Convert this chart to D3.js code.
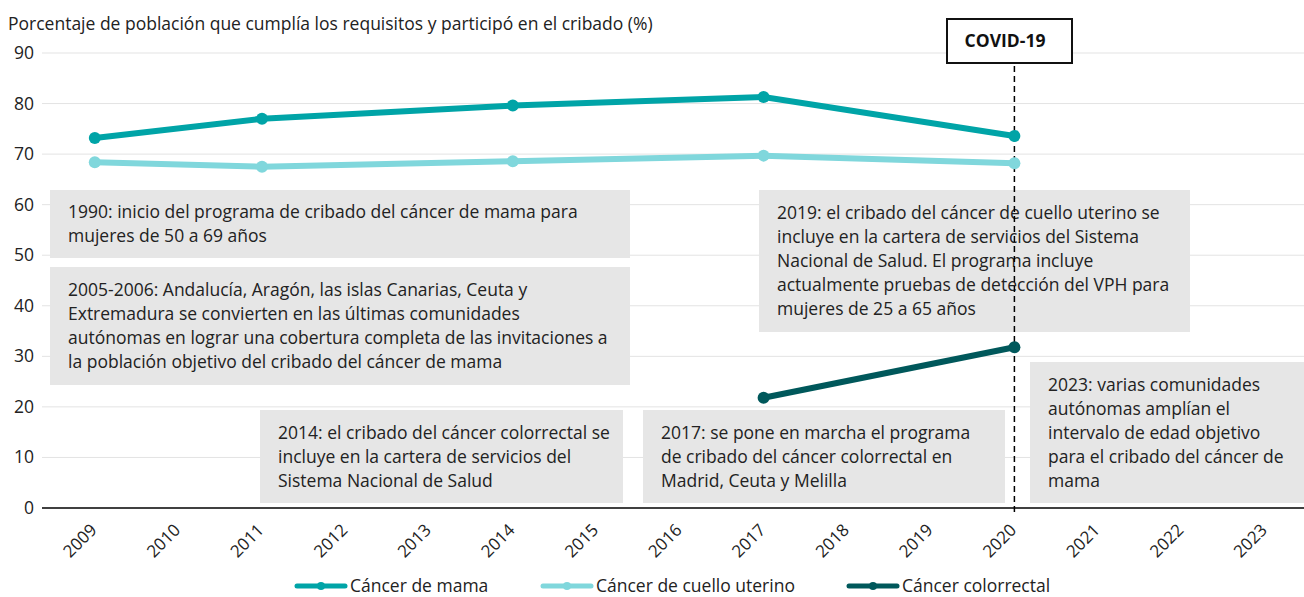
<!DOCTYPE html>
<html>
<head>
<meta charset="utf-8">
<script src="https://cdn.jsdelivr.net/npm/d3@7"></script>
<style>
  body { margin: 0; background: #fff; }
  svg { font-family: "Open Sans", "Noto Sans", sans-serif; }
</style>
</head>
<body>
<div id="chart"></div>
<script>
// Years on the x axis
const years = ["2009","2010","2011","2012","2013","2014","2015","2016","2017","2018","2019","2020","2021","2022","2023"];
const yTicks = [0, 10, 20, 30, 40, 50, 60, 70, 80, 90];

// Series values
const mamaYears = ["2009", "2011", "2014", "2017", "2020"];
const mamaValues = [73.2, 77.0, 79.6, 81.3, 73.6];
const cuelloYears = ["2009", "2011", "2014", "2017", "2020"];
const cuelloValues = [68.4, 67.5, 68.6, 69.7, 68.2];
const colorYears = ["2017", "2020"];
const colorValues = [21.8, 31.8];

const seriesNames = ["Cáncer de mama", "Cáncer de cuello uterino", "Cáncer colorrectal"];
const seriesColors = ["#00a4a7", "#80d7dc", "#00585b"];

// Annotation texts
const noteLines = [
  ["1990: inicio del programa de cribado del cáncer de mama para", "mujeres de 50 a 69 años"],
  ["2005-2006: Andalucía, Aragón, las islas Canarias, Ceuta y", "Extremadura se convierten en las últimas comunidades", "autónomas en lograr una cobertura completa de las invitaciones a", "la población objetivo del cribado del cáncer de mama"],
  ["2014: el cribado del cáncer colorrectal se", "incluye en la cartera de servicios del", "Sistema Nacional de Salud"],
  ["2017: se pone en marcha el programa", "de cribado del cáncer colorrectal en", "Madrid, Ceuta y Melilla"],
  ["2019: el cribado del cáncer de cuello uterino se", "incluye en la cartera de servicios del Sistema", "Nacional de Salud. El programa incluye", "actualmente pruebas de detección del VPH para", "mujeres de 25 a 65 años"],
  ["2023: varias comunidades", "autónomas amplían el", "intervalo de edad objetivo", "para el cribado del cáncer de", "mama"]
];
// pixel placement of boxes (left, right, top, bottom)
const noteBoxes = [
  [50, 630, 190, 258],
  [50, 630, 267, 385],
  [260, 623, 410, 503],
  [643, 1005, 410, 503],
  [759, 1190, 190, 332],
  [1030, 1304, 362, 503]
];

const width = 1304, height = 597;
const plotLeft = 42, plotRight = 1304;
const fs = "17.5px";

const svg = d3.select("#chart").append("svg")
  .attr("width", width)
  .attr("height", height);

const x = d3.scaleBand().domain(years).range([53, 1307]);
const xc = d => x(d) + x.bandwidth() / 2;
const y = d3.scaleLinear().domain([0, 90]).range([508, 53]);

// Subtitle
svg.append("text")
  .attr("x", 8).attr("y", 30)
  .style("font-size", fs)
  .attr("fill", "#222")
  .text("Porcentaje de población que cumplía los requisitos y participó en el cribado (%)");

// Gridlines
svg.selectAll(".grid")
  .data(yTicks.filter(t => t > 0))
  .enter().append("line")
  .attr("x1", plotLeft).attr("x2", plotRight)
  .attr("y1", d => y(d)).attr("y2", d => y(d))
  .attr("stroke", "#e3e3e3").attr("stroke-width", 1);

// Y labels
svg.selectAll(".ylab")
  .data(yTicks)
  .enter().append("text")
  .attr("x", 34).attr("y", d => y(d) + 6)
  .attr("text-anchor", "end")
  .style("font-size", fs)
  .attr("fill", "#222")
  .text(d => d);

// Annotation boxes
noteLines.forEach((lines, i) => {
  const b = noteBoxes[i];
  svg.append("rect")
    .attr("x", b[0]).attr("y", b[2])
    .attr("width", b[1] - b[0]).attr("height", b[3] - b[2])
    .attr("fill", "#e6e6e6");
  const lh = 24;
  const startY = (b[2] + b[3]) / 2 - lines.length * lh / 2 + lh / 2 + 6;
  lines.forEach((l, j) => {
    svg.append("text")
      .attr("x", b[0] + 18)
      .attr("y", startY + j * lh)
      .style("font-size", fs)
      .attr("fill", "#222")
      .text(l);
  });
});

// COVID line and label
const covX = xc("2020");
svg.append("line")
  .attr("x1", covX).attr("x2", covX)
  .attr("y1", 66).attr("y2", 512)
  .attr("stroke", "#000").attr("stroke-width", 1.5)
  .attr("stroke-dasharray", "6,4");
svg.append("rect")
  .attr("x", 947).attr("y", 19)
  .attr("width", 125).attr("height", 44)
  .attr("fill", "#fff").attr("stroke", "#111").attr("stroke-width", 2);
svg.append("text")
  .attr("x", 1005).attr("y", 47)
  .attr("text-anchor", "middle")
  .style("font-size", fs).style("font-weight", "bold")
  .attr("fill", "#111")
  .text("COVID-19");

// X axis line
svg.append("line")
  .attr("x1", plotLeft).attr("x2", plotRight)
  .attr("y1", y(0)).attr("y2", y(0))
  .attr("stroke", "#000").attr("stroke-width", 1.3);

// X labels
svg.selectAll(".xlab")
  .data(years)
  .enter().append("text")
  .attr("transform", d => "translate(" + (xc(d) + 3) + "," + 531 + ") rotate(-45)")
  .attr("text-anchor", "end")
  .style("font-size", "17px")
  .attr("fill", "#222")
  .text(d => d);

// Lines
const line = d3.line().x(d => xc(d.year)).y(d => y(d.value));
const series = [
  mamaYears.map((yr, i) => ({ year: yr, value: mamaValues[i] })),
  cuelloYears.map((yr, i) => ({ year: yr, value: cuelloValues[i] })),
  colorYears.map((yr, i) => ({ year: yr, value: colorValues[i] }))
];
series.forEach((s, i) => {
  svg.append("path")
    .datum(s)
    .attr("d", line)
    .attr("fill", "none")
    .attr("stroke", seriesColors[i])
    .attr("stroke-width", 6);
  svg.selectAll(".pt" + i)
    .data(s)
    .enter().append("circle")
    .attr("cx", d => xc(d.year))
    .attr("cy", d => y(d.value))
    .attr("r", 6)
    .attr("fill", seriesColors[i]);
});

// Legend
const legendX = [295, 541, 847];
seriesNames.forEach((name, i) => {
  const g = svg.append("g").attr("transform", "translate(" + legendX[i] + ",586)");
  g.append("line")
    .attr("x1", 2).attr("x2", 50).attr("y1", 0).attr("y2", 0)
    .attr("stroke", seriesColors[i]).attr("stroke-width", 5)
    .attr("stroke-linecap", "round");
  g.append("circle").attr("cx", 26).attr("cy", 0).attr("r", 4).attr("fill", seriesColors[i]);
  g.append("text")
    .attr("x", 55).attr("y", 6)
    .style("font-size", fs)
    .attr("fill", "#222")
    .text(name);
});
</script>
</body>
</html>
